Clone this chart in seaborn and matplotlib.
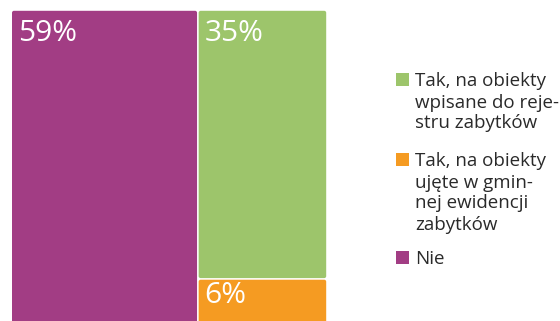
import matplotlib
matplotlib.use("Agg")
import matplotlib.pyplot as plt
from matplotlib.patches import FancyBboxPatch, Rectangle
import seaborn as sns

# Survey answers (share of respondents, %)
categories = [
    "Tak, na obiekty\nwpisane do reje-\nstru zabytków",
    "Tak, na obiekty\nujęte w gmin-\nnej ewidencji\nzabytków",
    "Nie",
]
values = [35, 6, 59]
colors = sns.color_palette(["#9DC56B", "#F59B22", "#A23D84"])

sns.set_theme(style="white")
plt.rcParams["font.family"] = ["Open Sans", "DejaVu Sans"]

W, H = 560, 321
fig = plt.figure(figsize=(W / 100, H / 100), dpi=100)

# Treemap area: a square block, partly running past the lower edge
left_px, top_px, side_px = 12, 10, 315
ax = fig.add_axes([left_px / W, 1 - (top_px + side_px) / H, side_px / W, side_px / H])
ax.set_xlim(0, 100)
ax.set_ylim(0, 100)
ax.axis("off")

total = sum(values)
big = values.index(max(values))
rest = [i for i in range(len(values)) if i != big]

# Largest category takes a full-height column on the left
rects = {}
big_w = 100 * values[big] / total
rects[big] = (0, 0, big_w, 100)
rest_total = sum(values[i] for i in rest)
y_top = 100
for i in rest:
    h = 100 * values[i] / rest_total
    rects[i] = (big_w, y_top - h, 100 - big_w, h)
    y_top -= h

px = 100 / side_px  # data units per pixel
gap = 0.8 * px
for i, (x, y, w, h) in rects.items():
    x0 = x + (gap if x > 0 else 0)
    ax.add_patch(FancyBboxPatch(
        (x0, y + gap), x + w - gap - x0, h - 2 * gap,
        boxstyle=f"round,pad=0,rounding_size={2 * px}",
        facecolor=colors[i], edgecolor="none"))
    pad_top = 8 if h * side_px / 100 > 80 else 1
    ax.annotate(f"{values[i]}%", xy=(x0, y + h - gap), xycoords="data",
                xytext=(6, -pad_top), textcoords="offset pixels",
                ha="left", va="top", color="white", fontsize=21.5)

# Legend on the right
sq = 13
sq_x = 396
text_x = 415
line_h = 21
sq_tops = [73, 153, 251]
for i, top in enumerate(sq_tops):
    fig.add_artist(Rectangle((sq_x / W, 1 - (top + sq) / H), sq / W, sq / H,
                             transform=fig.transFigure, facecolor=colors[i],
                             edgecolor="none"))
    for k, line in enumerate(categories[i].split("\n")):
        base = top + sq + 0.5 + k * line_h
        fig.text(text_x / W, 1 - base / H, line,
                 ha="left", va="baseline", fontsize=13.5, color="#2a2a2a")

fig.savefig("out.png", dpi=100)
